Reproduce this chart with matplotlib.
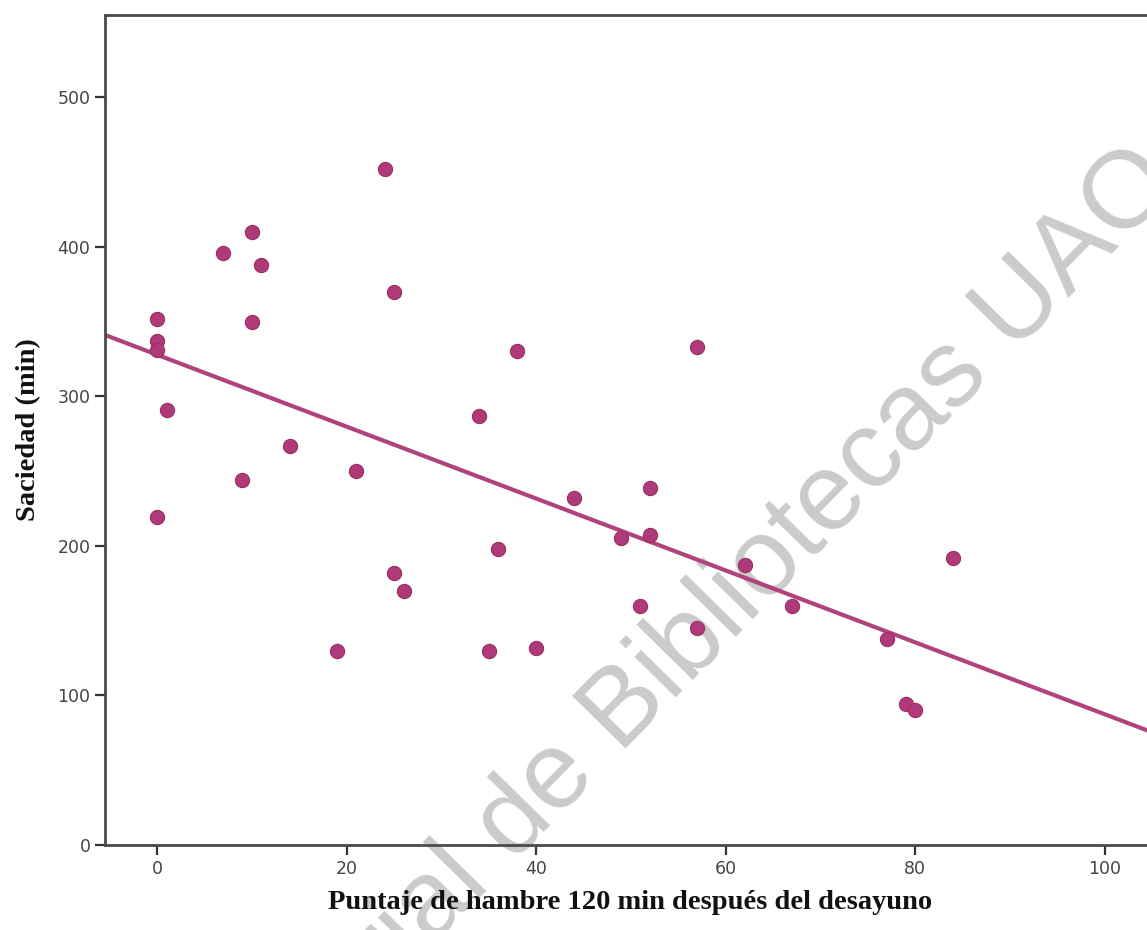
import matplotlib
matplotlib.use("Agg")
import matplotlib.pyplot as plt
import numpy as np

# Puntaje de hambre 120 min después del desayuno vs Saciedad (min)
hambre = [0, 0, 0, 0, 1, 7, 10, 11, 10, 9, 14, 19, 21, 24, 25, 25, 26,
          34, 35, 36, 38, 40, 44, 49, 51, 52, 52, 57, 57, 62, 67, 77, 79, 80, 84]
saciedad = [352, 337, 331, 219, 291, 396, 410, 388, 350, 244, 267, 130, 250, 452,
            370, 182, 170, 287, 130, 198, 330, 132, 232, 205, 160, 239, 207, 333, 145,
            187, 160, 138, 94, 90, 192]

x_ticks = [0, 20, 40, 60, 80, 100]
y_ticks = [0, 100, 200, 300, 400, 500]

point_color = "#b03a78"
line_color = "#b0437c"
axis_color = "#4a4a4a"

fig = plt.figure(figsize=(11.47, 9.3), dpi=100)
ax = fig.add_axes([105 / 1147, 85 / 930, 1051 / 1147, 830 / 930])
ax.set_zorder(1)
ax.patch.set_visible(False)

# fit line (SPSS "Fit line at total")
hx = np.array(hambre, dtype=float)
sy = np.array(saciedad, dtype=float)
slope, intercept = np.polyfit(hx, sy, 1)
xl = np.array([-10, 115])
ax.plot(xl, intercept + slope * xl, color=line_color, linewidth=3.0, zorder=2)

ax.scatter(hx, sy, s=105, color=point_color, edgecolors="#9a2f68",
           linewidths=0.8, zorder=3)

ax.set_xlim(-5.5, 105.4)
ax.set_ylim(0, 555)
ax.set_xticks(x_ticks)
ax.set_yticks(y_ticks)

for side in ("left", "bottom", "top", "right"):
    ax.spines[side].set_color(axis_color)
    ax.spines[side].set_linewidth(2.0)

ax.tick_params(axis="both", direction="out", length=7, width=1.6,
               color="#333333", labelcolor="#444444", labelsize=12.5)
for lab in ax.get_xticklabels() + ax.get_yticklabels():
    lab.set_family("DejaVu Sans")

ax.set_xlabel("Puntaje de hambre 120 min después del desayuno",
              family="Liberation Serif", fontweight="bold", fontsize=20.5,
              color="#111111", labelpad=9)
ax.set_ylabel("Saciedad (min)", family="Liberation Serif", fontweight="bold",
              fontsize=20.5, color="#111111", labelpad=12)

# watermark, drawn behind the plot
fig.text(0.592, 0.297, "Material de Bibliotecas UAO", family="Liberation Sans",
         fontsize=79, color="#cbcbcb", rotation=45.5, ha="center", va="center",
         rotation_mode="anchor", zorder=0.5)

fig.savefig("out.png", dpi=100, facecolor="white")
